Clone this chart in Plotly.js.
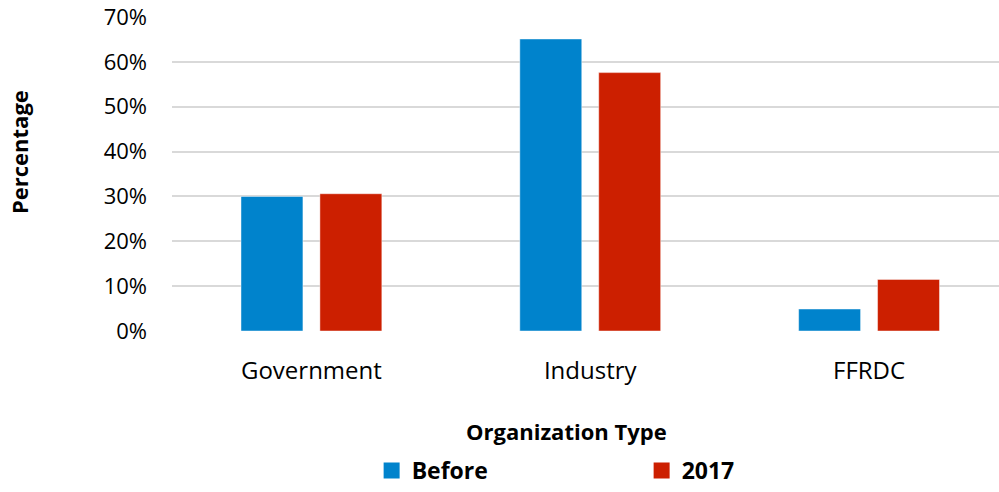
<!DOCTYPE html>
<html>
<head>
<meta charset="utf-8">
<script src="https://cdn.plot.ly/plotly-3.0.1.min.js"></script>
<style>html,body{margin:0;padding:0;background:#fff;}#chart{width:999px;height:492px;}</style>
</head>
<body>
<div id="chart"></div>
<script>
var categories = ["Government", "Industry", "FFRDC"];
var seriesNames = ["Before", "2017"];
var beforeValues = [0.300, 0.651, 0.049];
var values2017 = [0.306, 0.576, 0.115];
var yTickValues = [0, 0.1, 0.2, 0.3, 0.4, 0.5, 0.6, 0.7];
var xTitle = "Organization Type";
var yTitle = "Percentage";

var colors = ["#0083CC", "#CC1F00"];
var font = "'Open Sans', 'Noto Sans', sans-serif";

var traces = [
  {type: "bar", x: categories, y: beforeValues, name: seriesNames[0], showlegend: false,
   marker: {color: colors[0], line: {color: "rgba(255,255,255,0.45)", width: 1}}, hoverinfo: "skip"},
  {type: "bar", x: categories, y: values2017, name: seriesNames[1], showlegend: false,
   marker: {color: colors[1], line: {color: "rgba(255,255,255,0.45)", width: 1}}, hoverinfo: "skip"},
  {type: "scatter", mode: "markers", x: [null], y: [null], name: seriesNames[0], showlegend: true,
   marker: {symbol: "square", size: 17, color: colors[0]}},
  {type: "scatter", mode: "markers", x: [null], y: [null], name: seriesNames[1], showlegend: true,
   marker: {symbol: "square", size: 17, color: colors[1]}}
];

var layout = {
  width: 999, height: 492,
  margin: {l: 172, r: 0, t: 17, b: 160.5, autoexpand: false},
  paper_bgcolor: "#fff", plot_bgcolor: "#fff",
  barmode: "group", bargap: 0.434, bargroupgap: 0.215,
  font: {family: font, color: "#000"},
  xaxis: {type: "category", range: [-0.5, 2.466], showgrid: false, zeroline: false,
          showline: false, ticks: "", ticklabelstandoff: 23, automargin: false,
          tickfont: {family: font, size: 24, color: "#000"}, fixedrange: true},
  yaxis: {range: [0, 0.7], tickvals: yTickValues, tickformat: ".0%", showgrid: true,
          gridcolor: "#D9D9D9", gridwidth: 2, zeroline: false, showline: false, ticks: "",
          ticklabelstandoff: 24, automargin: false,
          tickfont: {family: font, size: 22, color: "#000"}, fixedrange: true},
  legend: {orientation: "h", xref: "container", yref: "container", x: 0.372, xanchor: "left",
           y: -0.0122, yanchor: "bottom",
           font: {family: font, size: 23, color: "#000", weight: "bold"},
           entrywidth: 225, entrywidthmode: "pixels", itemclick: false, itemdoubleclick: false,
           tracegroupgap: 0},
  annotations: [
    {text: "<b>" + xTitle + "</b>", xref: "paper", yref: "paper", x: 0.4776, y: -0.32,
     xanchor: "center", yanchor: "middle", showarrow: false, font: {family: font, size: 22, color: "#000"}},
    {text: "<b>" + yTitle + "</b>", xref: "paper", yref: "paper", x: -0.185, y: 0.57,
     xanchor: "center", yanchor: "middle", textangle: -90, showarrow: false,
     font: {family: font, size: 22, color: "#000"}}
  ],
  showlegend: true
};

Plotly.newPlot("chart", traces, layout, {displayModeBar: false, staticPlot: true});
</script>
</body>
</html>
